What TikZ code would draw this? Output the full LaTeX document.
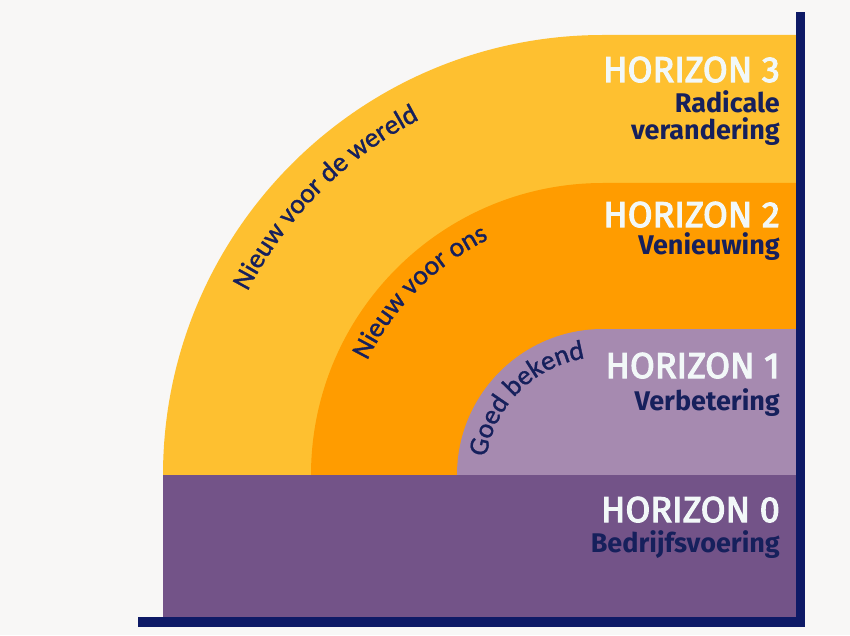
\documentclass[tikz,border=0pt]{standalone}
\usepackage{fontspec}
\setmainfont{Fira Sans}
\newfontfamily\titlefont[FakeBold=3]{Fira Sans}
\newfontfamily\arcfamily[FakeBold=1.2]{Carlito}
\usepackage{xcolor}
\definecolor{bgpaper}{RGB}{248,247,246}
\definecolor{h3yellow}{RGB}{254,192,48}
\definecolor{h2orange}{RGB}{255,156,0}
\definecolor{h1lilac}{RGB}{166,138,176}
\definecolor{h0purple}{RGB}{115,83,136}
\definecolor{axisnavy}{RGB}{14,26,102}
\definecolor{titlewhite}{RGB}{242,248,248}
\definecolor{textnavy}{RGB}{22,32,92}
\usepackage{tikz}
\usetikzlibrary{decorations.text}
\newcommand{\arcfont}{\arcfamily\fontsize{27.5}{27.5}\selectfont}

\begin{document}
\begin{tikzpicture}[x=1pt,y=1pt,
title/.style={anchor=base east,inner sep=0pt,text=titlewhite,font=\titlefont\fontsize{36}{40}\selectfont},
sub/.style={anchor=base east,inner sep=0pt,align=right,text=textnavy,font=\bfseries\fontsize{27}{27}\selectfont},
arclabel/.style={decorate,decoration={text along path,text align=center,text color=textnavy,text={|\arcfont|#1}}}]
\fill[bgpaper] (0,0) rectangle (850,635);
\useasboundingbox (0,0) rectangle (850,635);
\coordinate (ctr) at (603,160);
\fill[h3yellow] (ctr) ++(180:440) arc[start angle=180,end angle=90,radius=440] -- (796,600) -- (796,160) -- cycle;
\fill[h2orange] (ctr) ++(180:292) arc[start angle=180,end angle=90,radius=292] -- (796,452) -- (796,160) -- cycle;
\fill[h1lilac] (ctr) ++(180:146) arc[start angle=180,end angle=90,radius=146] -- (796,306) -- (796,160) -- cycle;
\fill[h0purple] (163,18) rectangle (796,160);
\fill[axisnavy] (796,8) rectangle (805,623);
\fill[axisnavy] (138,8) rectangle (805,18);
\path[arclabel={Nieuw voor de wereld}] (ctr) ++(178:400) arc[start angle=178,end angle=92,radius=400];
\path[arclabel={Nieuw voor ons}] (ctr) ++(178:262) arc[start angle=178,end angle=92,radius=262];
\path[arclabel={Goed bekend}] (ctr) ++(178:118) arc[start angle=178,end angle=92,radius=118];
\node[title] (h3title) at (780,553) {HORIZON 3};
\node[sub] (h3sub) at (780,495) {Radicale\\verandering};
\node[title] (h2title) at (780,408) {HORIZON 2};
\node[sub] (h2sub) at (780,380) {Venieuwing};
\node[title] (h1title) at (780,257) {HORIZON 1};
\node[sub] (h1sub) at (780,225) {Verbetering};
\node[title] (h0title) at (780,113) {HORIZON 0};
\node[sub] (h0sub) at (780,83) {Bedrijfsvoering};
\end{tikzpicture}
\end{document}
